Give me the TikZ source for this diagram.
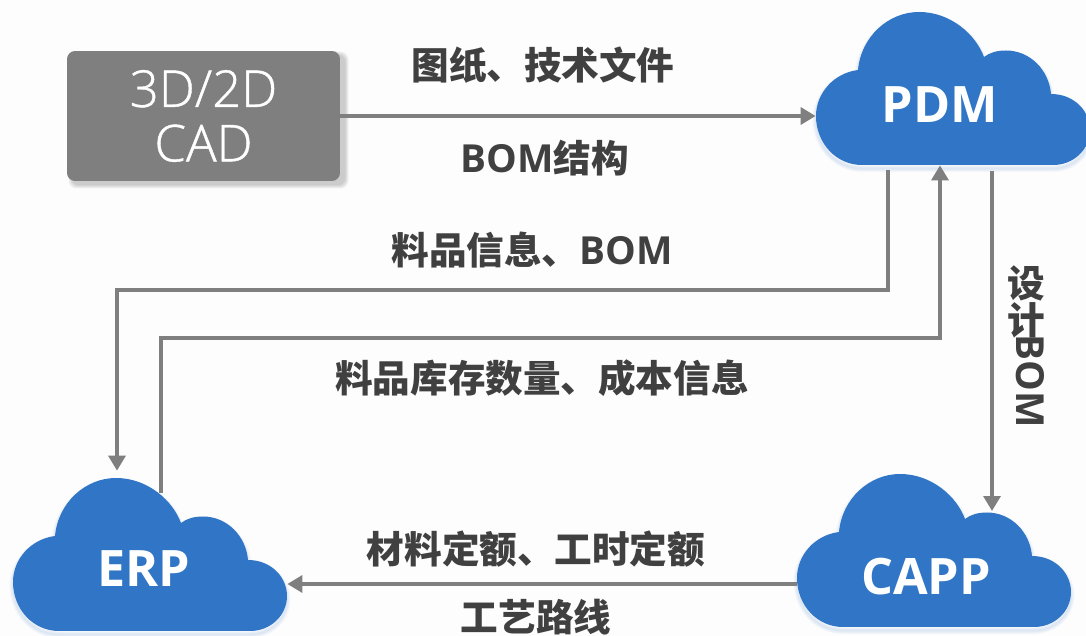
\documentclass[tikz,border=0pt]{standalone}
\usepackage{fontspec}
\setmainfont{Noto Sans CJK SC}
\newfontfamily\latinfont{Open Sans}
\newfontfamily\cadfont[RawFeature={embolden=0.8}]{Open Sans Light}
\usetikzlibrary{arrows.meta}
\definecolor{cloudblue}{HTML}{3175C6}
\definecolor{flowgray}{HTML}{7F7F7F}
\definecolor{labelgray}{HTML}{404040}
\definecolor{paper}{HTML}{FDFDFD}
\newcommand{\bom}{{\fontsize{22}{21}\selectfont\latinfont BOM}}
\newcommand{\cloudpath}{(46,0) -- (237,0) .. controls (258,0) and (274,16) .. (274,35) .. controls (274,54) and (258,71) .. (235,71) .. controls (233,95) and (214,114.5) .. (190,114.5) .. controls (181,114.5) and (174,112.5) .. (168,108) .. controls (160,130) and (135,153) .. (103,153) .. controls (72,153) and (45,128) .. (42,95) .. controls (18,92) and (0,72) .. (0,49) .. controls (0,22) and (20,0) .. (46,0) -- cycle}
\newcommand{\cloudat}[3]{
\begin{scope}[shift={(#2,#3)}]
\foreach \w in {1,2,3,4}
  \draw[cloudblue, opacity=0.04, line width=\w pt, line join=round, yshift=-2] \cloudpath;
\fill[cloudblue] \cloudpath;
\node[cloudbox] (#1) at (137,76.5) {};
\end{scope}
}
\tikzset{
  cloudbox/.style={minimum width=5.48cm, minimum height=3.06cm, inner sep=0pt},
  cloudtext/.style={text=white, font=\fontsize{28.6}{32}\selectfont\bfseries\latinfont, inner sep=0pt},
  cadbox/.style={fill=flowgray, rounded corners=0.16cm, minimum width=5.46cm, minimum height=2.6cm, inner sep=0pt, align=center, text=white, font=\fontsize{29}{31}\selectfont\cadfont},
  flow/.style={draw=flowgray, line width=2.8pt, -{Triangle[length=8.5pt,width=9.5pt]}},
  flowlabel/.style={text=labelgray, font=\fontsize{21.4}{21}\selectfont\bfseries, inner sep=0pt},
}
\begin{document}
\begin{tikzpicture}[x=0.02cm,y=0.02cm]
\useasboundingbox (0,0) rectangle (1086,636);
\fill[paper] (0,0) rectangle (1086,636);

% shadow of the cad box
\foreach \w in {1,3,5,7}
  \fill[black, opacity=0.05, rounded corners=0.16cm] (67+5-\w/2,455-4-\w/2) rectangle (340+5+\w/2,585-4+\w/2);

\node[cadbox] (cad) at (203.5,520) {3D/2D\\CAD};

\cloudat{pdm}{816}{471}
\cloudat{erp}{13}{5}
\cloudat{capp}{797}{9}

\node[cloudtext] (pdmtext) at (940,531) {PDM};
\node[cloudtext] (erptext) at (144,67) {ERP};
\node[cloudtext] (capptext) at (926,59) {CAPP};

\coordinate (bendA) at (888,346);
\coordinate (bendB) at (117,346);
\coordinate (bendC) at (161,298);
\coordinate (bendD) at (940,298);
\coordinate (erptop) at (161,143);
\coordinate (cappin) at (992,125);
\coordinate (cappout) at (992,465);
\coordinate (lowline) at (500,52);

\draw[flow] (cad.east) -- (cad.east -| pdm.west);
\draw[flow, shorten <=0.1cm, shorten >=0.14cm] (pdm.south -| bendA) -- (bendA) -- (bendB) -- (bendB |- erp.north);
\draw[flow] (erptop) -- (bendC) -- (bendD) -- (bendD |- pdm.south);
\draw[flow] (cappout) -- (cappin);
\draw[flow] (capp.west |- lowline) -- (erp.east |- lowline);

\node[flowlabel] (drawings) at (543,571) {图纸、技术文件};
\node[flowlabel] (bomtree) at (545,478) {\bom 结构};
\node[flowlabel] (iteminfo) at (532,386) {料品信息、\bom};
\node[flowlabel] (stockinfo) at (542,258) {料品库存数量、成本信息};
\node[flowlabel] (quota) at (536,87) {材料定额、工时定额};
\node[flowlabel] (route) at (536,19) {工艺路线};
\node[flowlabel, align=center] (designword) at (1026,334) {设\\计};
\node[flowlabel, rotate=-90] (designbom) at (1030,255) {\bom};
\end{tikzpicture}
\end{document}
